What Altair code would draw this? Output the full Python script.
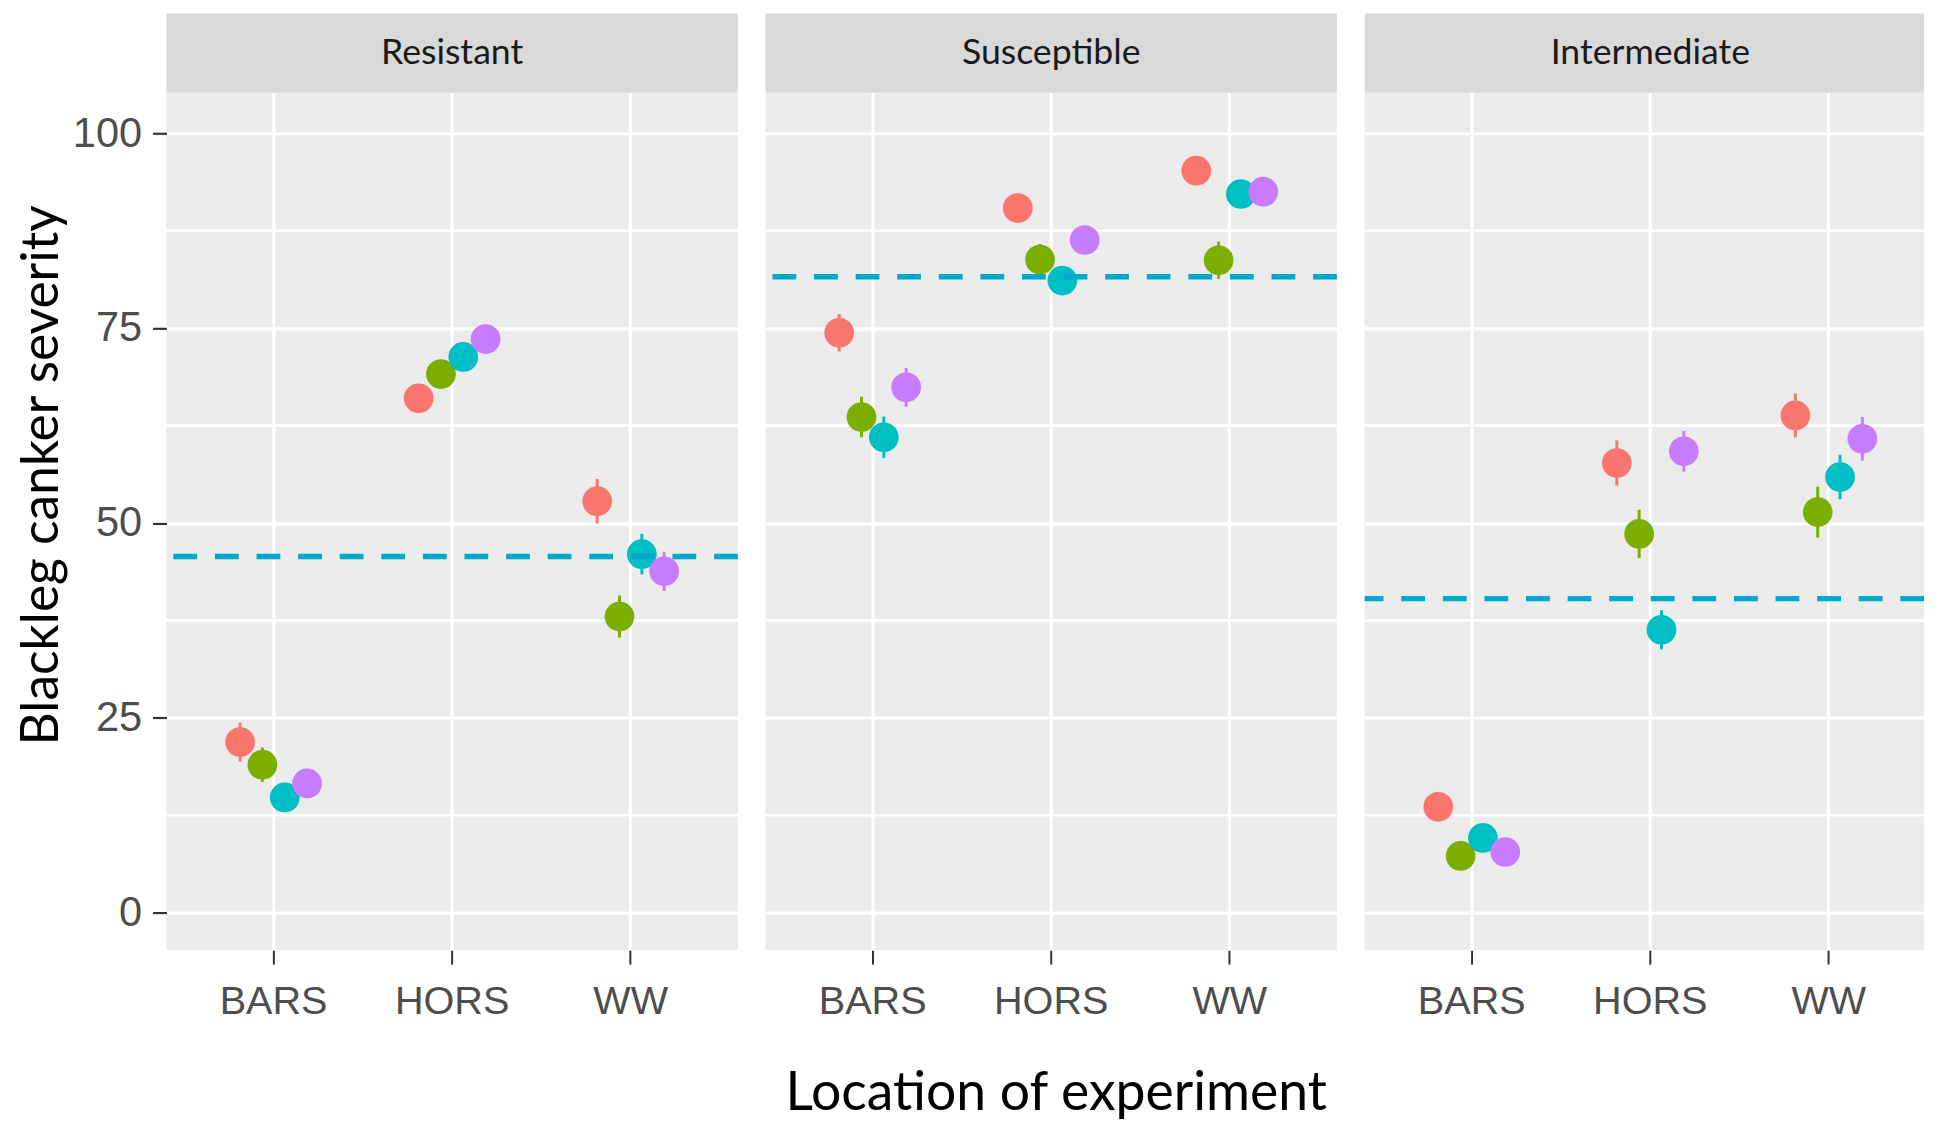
import altair as alt
import pandas as pd

panels = ["Resistant", "Susceptible", "Intermediate"]
locations = ["BARS", "HORS", "WW"]
groups = ["G1", "G2", "G3", "G4"]
group_colors = ["#F8766D", "#7CAE00", "#00BFC4", "#C77CFF"]

# mean severity: for each panel, BARS (G1..G4), HORS (G1..G4), WW (G1..G4)
resistant_mean = [21.9, 19.0, 14.8, 16.6, 66.0, 69.1, 71.3, 73.6, 52.8, 38.0, 46.0, 43.8]
susceptible_mean = [74.4, 63.6, 61.0, 67.4, 90.4, 83.8, 81.1, 86.3, 95.2, 83.7, 92.2, 92.5]
intermediate_mean = [13.6, 7.3, 9.6, 7.8, 57.7, 48.6, 36.3, 59.2, 63.8, 51.4, 55.9, 60.8]

# standard errors
resistant_se = [2.5, 2.2, 1.5, 1.5, 1.5, 1.5, 1.5, 1.5, 2.85, 2.7, 2.6, 2.5]
susceptible_se = [2.4, 2.6, 2.65, 2.5, 1.5, 2.0, 1.5, 1.5, 1.5, 2.4, 1.5, 1.5]
intermediate_se = [1.2, 1.2, 1.2, 1.2, 2.9, 3.1, 2.5, 2.6, 2.8, 3.25, 2.85, 2.8]

# overall mean (dashed line) per panel
panel_mean = [45.7, 81.6, 40.3]

y_ticks = [0, 25, 50, 75, 100]
y_minor = [12.5, 37.5, 62.5, 87.5]
y_domain = [-4.8, 105.2]

means = [resistant_mean, susceptible_mean, intermediate_mean]
ses = [resistant_se, susceptible_se, intermediate_se]

rows = []
for p, m_list, s_list in zip(panels, means, ses):
    k = 0
    for loc in locations:
        for g in groups:
            rows.append({"panel": p, "location": loc, "group": g,
                         "severity": m_list[k], "se": s_list[k]})
            k += 1
df = pd.DataFrame(rows)
df["lo"] = df["severity"] - df["se"]
df["hi"] = df["severity"] + df["se"]

FULL_W = 577                 # full panel width (x scale range)
WIDTHS = [577, 577, 565]     # last panel is cut off at the right edge as in the original
H = 866
STRIP = 80
STEP = FULL_W / 3.2          # band width of one location (ggplot discrete expansion 0.6)
DODGE = 0.5                  # dodge width in units of a band

TICK_FONT = "Liberation Sans"
TITLE_FONT = "Lato"


def panel_chart(i):
    name = panels[i]
    w = WIDTHS[i]
    d = df[df["panel"] == name]
    first = i == 0
    middle = i == 1

    x_axis = alt.Axis(
        grid=True, gridColor="white", gridWidth=3.2, bandPosition=0.5,
        domain=False, ticks=True, tickColor="#333333", tickWidth=2, tickSize=14,
        labelAngle=0, labelFont=TICK_FONT, labelFontSize=40, labelColor="#4D4D4D",
        labelPadding=18,
        title="Location of experiment" if middle else None,
        titleFont=TITLE_FONT, titleFontSize=54, titleFontWeight="normal",
        titleColor="black", titlePadding=46, titleX=293,
    )
    if first:
        y_axis = alt.Axis(
            values=y_ticks, grid=True, gridColor="white", gridWidth=3.2,
            domain=False, ticks=True, tickColor="#333333", tickWidth=2.2, tickSize=14,
            labelFont=TICK_FONT, labelFontSize=42, labelColor="#4D4D4D", labelPadding=11,
            title="Blackleg canker severity", titleFont=TITLE_FONT, titleFontSize=52,
            titleFontWeight="normal", titleColor="black", titlePadding=4, titleY=386,
        )
    else:
        y_axis = alt.Axis(
            values=y_ticks, grid=True, gridColor="white", gridWidth=3.2,
            domain=False, ticks=False, labels=False, title=None,
        )

    x_enc = alt.X("location:N",
                  scale=alt.Scale(type="band", domain=locations, range=[0, FULL_W],
                                  paddingInner=0, paddingOuter=0.1),
                  axis=x_axis)
    xoff = alt.XOffset("group:N", scale=alt.Scale(
        type="band", domain=groups, paddingInner=0, paddingOuter=0,
        range=[STEP * (1 - DODGE) / 2, STEP * (1 + DODGE) / 2]))
    y_scale = alt.Scale(domain=y_domain, nice=False, zero=False)
    color = alt.Color("group:N", scale=alt.Scale(domain=groups, range=group_colors), legend=None)

    base = alt.Chart(d)

    minor = alt.Chart(pd.DataFrame({"v": y_minor})).mark_rule(
        color="white", strokeWidth=2.4
    ).encode(y=alt.Y("v:Q", scale=y_scale, axis=y_axis))

    err = base.mark_rule(strokeWidth=3).encode(
        x=x_enc, xOffset=xoff,
        y=alt.Y("lo:Q", scale=y_scale, axis=y_axis),
        y2="hi:Q", color=color,
    )
    pts = base.mark_circle(size=900, opacity=1).encode(
        x=x_enc, xOffset=xoff,
        y=alt.Y("severity:Q", scale=y_scale, axis=y_axis),
        color=color,
    )
    hl = alt.Chart(pd.DataFrame({"m": [panel_mean[i]]})).mark_rule(
        color="#00A8CC", strokeWidth=5.5, strokeDash=[24, 18]
    ).encode(y=alt.Y("m:Q", scale=y_scale, axis=y_axis))

    lab = pd.DataFrame({"panel": [name]})
    strip = alt.Chart(lab).mark_rect(color="#D9D9D9").encode(
        x=alt.value(0), x2=alt.value(w), y=alt.value(-STRIP), y2=alt.value(0)
    )
    strip_text = alt.Chart(lab).mark_text(
        font=TITLE_FONT, fontSize=36, color="#1A1A1A", baseline="middle", align="center"
    ).encode(x=alt.value(FULL_W / 2), y=alt.value(-STRIP / 2), text="panel:N")

    return alt.layer(minor, err, pts, hl, strip, strip_text).properties(width=w, height=H)


chart = alt.hconcat(*[panel_chart(i) for i in range(3)], spacing=22).configure_view(
    fill="#EBEBEB", stroke=None
).properties(
    padding={"left": 7, "top": 0, "right": 0, "bottom": 0},
    background="white",
)

chart.save("out.html", embed_options={"renderer": "svg", "actions": False})
